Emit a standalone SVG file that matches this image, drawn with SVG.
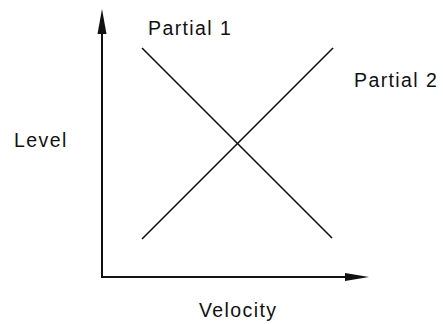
<svg xmlns="http://www.w3.org/2000/svg" width="443" height="324" viewBox="0 0 443 324">
<style>
text{font-family:"Liberation Sans",Arial,sans-serif;font-size:19.5px;fill:#111;letter-spacing:1.4px}
.axis{stroke:#111;stroke-width:2;fill:none}
.line{stroke:#111;stroke-width:1.6;fill:none}
.head{fill:#111}
</style>
<rect width="443" height="324" fill="#fff"/>
<g id="axes">
<path class="axis" d="M102,30 L102,277 L350,277"/>
<polygon class="head" points="102,9 97.5,34 106.5,34"/>
<polygon class="head" points="369,277 345,273 345,281"/>
</g>
<g id="connectors">
<line id="partial1-line" class="line" x1="142" y1="48" x2="332" y2="238"/>
<line id="partial2-line" class="line" x1="142" y1="239" x2="333" y2="48"/>
</g>
<g id="labels">
<text id="partial1" x="148" y="35">Partial 1</text>
<text id="partial2" x="354" y="87">Partial 2</text>
<text id="level" x="14" y="147">Level</text>
<text id="velocity" x="199" y="317">Velocity</text>
</g>
</svg>
